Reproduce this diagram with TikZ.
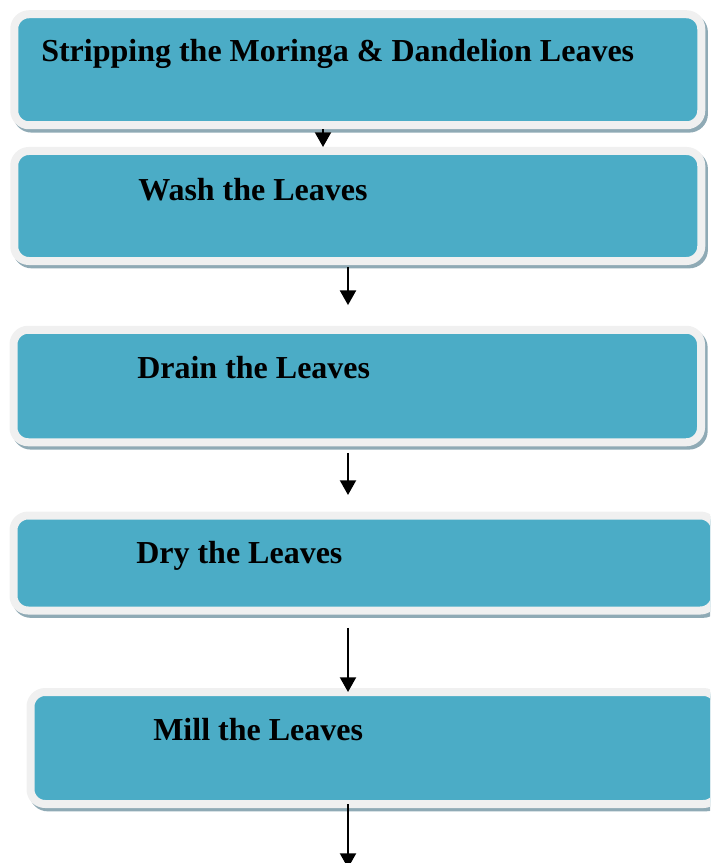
\documentclass[tikz,border=0pt]{standalone}
\usepackage{fontspec}
\setmainfont{Liberation Serif}
\usetikzlibrary{arrows.meta}
\definecolor{stepfill}{HTML}{4BACC6}
\definecolor{steprim}{HTML}{F0F0F0}
\definecolor{stepshade}{HTML}{8FAAB5}
\tikzset{
  stepbox/.style={draw=steprim, line width=6pt, fill=stepfill, rounded corners=11pt, inner sep=0pt,
    preaction={draw=stepshade, fill=stepshade, line width=6pt, transform canvas={xshift=2pt,yshift=-2.5pt}}},
  steptext/.style={anchor=base west, inner sep=0pt, font=\fontsize{24}{28}\selectfont\bfseries},
  flow/.style={-{Triangle[width=12pt,length=11pt]}, line width=1.5pt}
}

\begin{document}
\begin{tikzpicture}[x=0.75pt,y=-0.75pt]
                \useasboundingbox (0,0) rectangle (710,863);
                \clip (0,0) rectangle (710,863);
                % the five steps
                \node[stepbox, minimum width=687*0.75pt, minimum height=111*0.75pt] (strip) at (357.75,69.75) {};
                \node[stepbox, minimum width=687*0.75pt, minimum height=110*0.75pt] (wash) at (357.75,206) {};
                \node[stepbox, minimum width=687.5*0.75pt, minimum height=112.5*0.75pt] (drain) at (357.25,386) {};
                \node[stepbox, minimum width=701.5*0.75pt, minimum height=95*0.75pt] (dry) at (364.25,563) {};
                \node[stepbox, minimum width=687.5*0.75pt, minimum height=112*0.75pt] (mill) at (374.25,748) {};
                \node[steptext] (striptxt) at (41,62) {Stripping the Moringa \& Dandelion Leaves};
                \node[steptext] (washtxt) at (138,200) {Wash the Leaves};
                \node[steptext] (draintxt) at (137,378) {Drain the Leaves};
                \node[steptext] (drytxt) at (136,563) {Dry the Leaves};
                \node[steptext] (milltxt) at (153,740) {Mill the Leaves};
                % arrows
                \coordinate (col1) at (323,0);
                \coordinate (col) at (348,0);
                \coordinate (out) at (348,868);
                \draw[flow] (strip.south -| col1) -- (wash.north -| col1);
                \draw[flow, shorten <=1.5pt, shorten >=15.5pt] (wash.south -| col) -- (drain.north -| col);
                \draw[flow, shorten <=5pt, shorten >=12.4pt] (drain.south -| col) -- (dry.north -| col);
                \draw[flow, shorten <=10pt, shorten >=-3pt] (dry.south -| col) -- (mill.north -| col);
                \draw[flow, shorten <=-3pt] (mill.south -| col) -- (out);
            \end{tikzpicture}
\end{document}
